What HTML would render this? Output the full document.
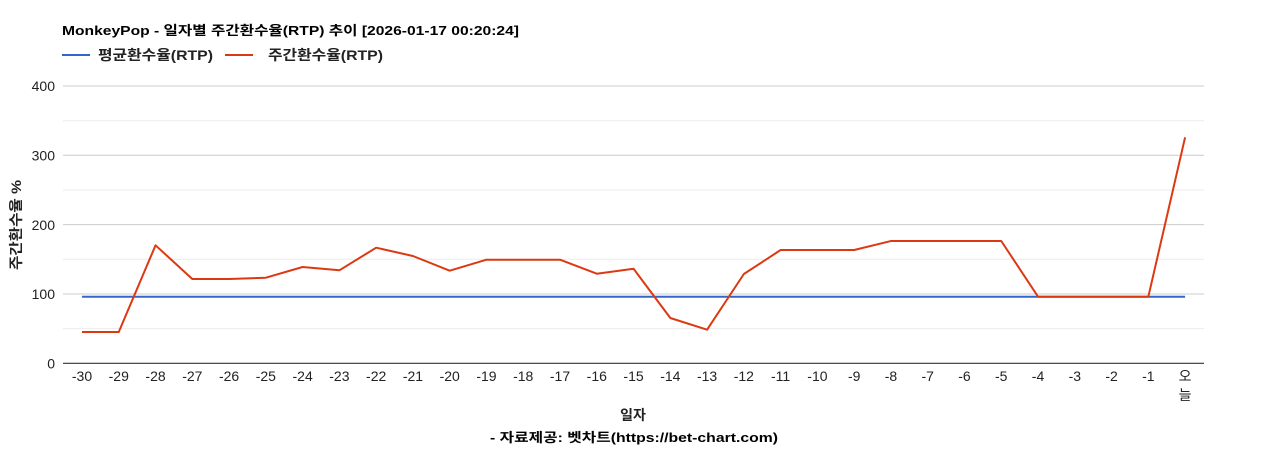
<!DOCTYPE html>
<html><head><meta charset="utf-8"><style>
html,body{margin:0;padding:0;background:#fff;}
svg{display:block;}
text{font-family:"Liberation Sans","Noto Sans CJK KR",sans-serif;}
</style></head><body>
<svg width="1268" height="450" viewBox="0 0 1268 450" xmlns="http://www.w3.org/2000/svg">
<rect width="1268" height="450" fill="#fff"/>
<text x="62" y="35" font-size="13" font-weight="bold" fill="#000" textLength="457" lengthAdjust="spacingAndGlyphs">MonkeyPop - 일자별 주간환수율(RTP) 추이 [2026-01-17 00:20:24]</text>
<line x1="62" y1="55" x2="90" y2="55" stroke="#3366cc" stroke-width="2"/>
<text x="98" y="60" font-size="14" font-weight="bold" fill="#222" textLength="115" lengthAdjust="spacingAndGlyphs">평균환수율(RTP)</text>
<line x1="225" y1="55" x2="253" y2="55" stroke="#dc3912" stroke-width="2"/>
<text x="268" y="60" font-size="14" font-weight="bold" fill="#222" textLength="115" lengthAdjust="spacingAndGlyphs">주간환수율(RTP)</text>
<g stroke-width="1">
<line x1="63" y1="120.7" x2="1204" y2="120.7" stroke="#ebebeb"/>
<line x1="63" y1="190" x2="1204" y2="190" stroke="#ebebeb"/>
<line x1="63" y1="259.3" x2="1204" y2="259.3" stroke="#ebebeb"/>
<line x1="63" y1="328.6" x2="1204" y2="328.6" stroke="#ebebeb"/>
<line x1="63" y1="86" x2="1204" y2="86" stroke="#cccccc"/>
<line x1="63" y1="155.3" x2="1204" y2="155.3" stroke="#cccccc"/>
<line x1="63" y1="224.6" x2="1204" y2="224.6" stroke="#cccccc"/>
<line x1="63" y1="294" x2="1204" y2="294" stroke="#cccccc"/>
</g>
<g font-size="14" fill="#222" text-anchor="end">
<text x="55" y="91">400</text>
<text x="55" y="160.5">300</text>
<text x="55" y="230">200</text>
<text x="55" y="299">100</text>
<text x="55" y="368.5">0</text>
</g>
<polyline fill="none" stroke="#3366cc" stroke-width="2" points="82,296.7 1185.1,296.7"/>
<polyline fill="none" stroke="#dc3912" stroke-width="2" stroke-linejoin="round" points="82,332 118.77,332 155.54,245.3 192.31,279 229.08,279 265.85,277.7 302.62,267 339.39,270.3 376.16,247.7 412.93,256 449.7,270.7 486.47,259.7 523.24,259.7 560.01,259.7 596.78,273.7 633.55,268.7 670.32,318 707.09,329.7 743.86,274 780.63,250 817.4,250 854.17,250 890.94,241 927.71,241 964.48,241 1001.25,241 1038.02,296.7 1074.79,296.7 1111.56,296.7 1148.33,296.7 1185.1,137.3"/>
<line x1="63" y1="363.3" x2="1204" y2="363.3" stroke="#333" stroke-width="1.2"/>
<g font-size="14" fill="#222" text-anchor="middle">
<text x="82" y="381">-30</text>
<text x="118.77" y="381">-29</text>
<text x="155.54" y="381">-28</text>
<text x="192.31" y="381">-27</text>
<text x="229.08" y="381">-26</text>
<text x="265.85" y="381">-25</text>
<text x="302.62" y="381">-24</text>
<text x="339.39" y="381">-23</text>
<text x="376.16" y="381">-22</text>
<text x="412.93" y="381">-21</text>
<text x="449.7" y="381">-20</text>
<text x="486.47" y="381">-19</text>
<text x="523.24" y="381">-18</text>
<text x="560.01" y="381">-17</text>
<text x="596.78" y="381">-16</text>
<text x="633.55" y="381">-15</text>
<text x="670.32" y="381">-14</text>
<text x="707.09" y="381">-13</text>
<text x="743.86" y="381">-12</text>
<text x="780.63" y="381">-11</text>
<text x="817.4" y="381">-10</text>
<text x="854.17" y="381">-9</text>
<text x="890.94" y="381">-8</text>
<text x="927.71" y="381">-7</text>
<text x="964.48" y="381">-6</text>
<text x="1001.25" y="381">-5</text>
<text x="1038.02" y="381">-4</text>
<text x="1074.79" y="381">-3</text>
<text x="1111.56" y="381">-2</text>
<text x="1148.33" y="381">-1</text>
<text x="1185.1" y="381">오</text>
<text x="1185.1" y="400">늘</text>
</g>
<text x="633" y="420" font-size="14" font-weight="bold" fill="#222" text-anchor="middle">일자</text>
<text x="634" y="442" font-size="13" font-weight="bold" fill="#000" text-anchor="middle" textLength="288" lengthAdjust="spacingAndGlyphs">- 자료제공: 벳차트(https://bet-chart.com)</text>
<text transform="translate(21,225) rotate(-90)" font-size="14" font-weight="bold" fill="#222" text-anchor="middle" textLength="90" lengthAdjust="spacingAndGlyphs">주간환수율 %</text>
</svg>
</body></html>
